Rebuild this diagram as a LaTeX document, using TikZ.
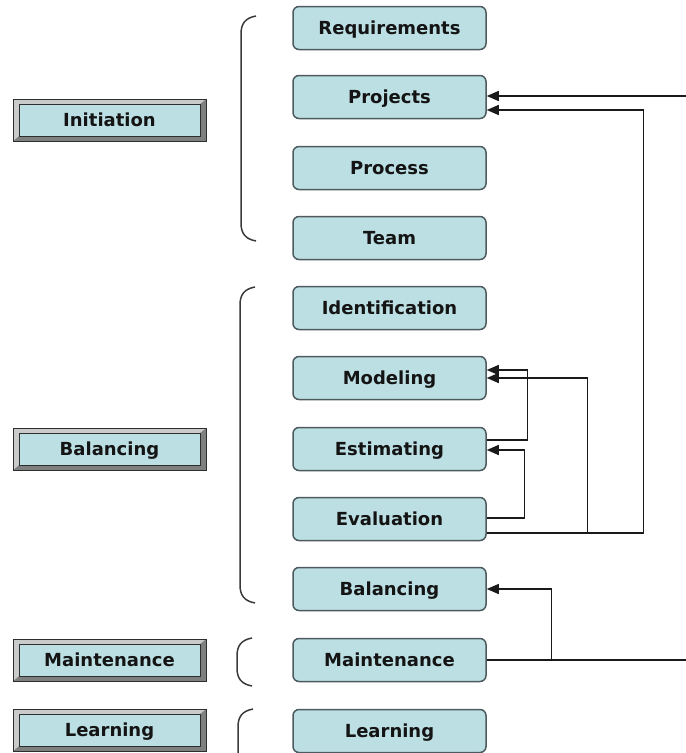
\documentclass[tikz,border=0pt]{standalone}
\usepackage{fontspec}
\setmainfont{DejaVu Sans}
\usetikzlibrary{arrows.meta}

\definecolor{boxfill}{HTML}{BCDFE3}
\definecolor{boxline}{HTML}{4D5B5E}
\definecolor{wire}{HTML}{1A1A1A}
\definecolor{framedark}{HTML}{2E2E2E}
\definecolor{bevellight}{HTML}{C9CBCB}
\definecolor{beveldark}{HTML}{7E8080}
\definecolor{bracketcol}{HTML}{3A3A3A}

% a curly bracket opening to the right: x of spine, top y, bottom y
\newcommand\groupbracket[3]{%
  \draw[bracketline] ({#1+15},{#2}) .. controls ({#1+4},{#2+2}) and ({#1},{#2+8}) .. ({#1},{#2+18})
    -- ({#1},{#3-18}) .. controls ({#1},{#3-8}) and ({#1+4},{#3-2}) .. ({#1+15},{#3});}

\begin{document}
\begin{tikzpicture}[x=1pt,y=-1pt,
  label font/.style={font=\bfseries\fontsize{18}{21}\selectfont, text=black!92,
    text height=13pt, text depth=0pt},
  stepbox/.style={label font, rectangle, rounded corners=6pt, draw=boxline,
    line width=1.5pt, fill=boxfill, minimum width=193pt, minimum height=43pt, inner sep=0pt},
  phasebox/.style={label font, rectangle, draw=framedark, line width=1pt,
    fill=beveldark, minimum width=193pt, minimum height=42pt, inner sep=0pt,
    path picture={
      \coordinate (bb nw) at (path picture bounding box.north west);
      \coordinate (bb ne) at (path picture bounding box.north east);
      \coordinate (bb se) at (path picture bounding box.south east);
      \coordinate (bb sw) at (path picture bounding box.south west);
      \fill[bevellight] (bb nw) -- (bb ne) -- ([shift={(-6pt,-5pt)}]bb ne)
        -- ([shift={(6pt,-5pt)}]bb nw) -- ([shift={(6pt,5pt)}]bb sw) -- (bb sw) -- cycle;
      \filldraw[fill=boxfill, draw=framedark, line width=1pt]
        ([shift={(6pt,-5pt)}]bb nw) rectangle ([shift={(-6pt,5pt)}]bb se);
    }},
  arr/.style={draw=wire, line width=1.4pt, -{Triangle[length=12pt,width=10pt]}},
  wireline/.style={draw=wire, line width=1.4pt},
  bracketline/.style={draw=bracketcol, line width=1.5pt}]

\useasboundingbox (0,0) rectangle (686,753);

% phase labels on the left
\node[phasebox] (pinit)  at (109.5,120) {Initiation};
\node[phasebox] (pbal)   at (109.5,449) {Balancing};
\node[phasebox] (pmaint) at (109.5,660) {Maintenance};
\node[phasebox] (plearn) at (109.5,730) {Learning};

% steps of each phase
\node[stepbox] (req)   at (389.5,28)  {Requirements};
\node[stepbox] (proj)  at (389.5,97)  {Projects};
\node[stepbox] (proc)  at (389.5,168) {Process};
\node[stepbox] (team)  at (389.5,238) {Team};
\node[stepbox] (ident) at (389.5,308) {Identification};
\node[stepbox] (modl)  at (389.5,378) {Modeling};
\node[stepbox] (est)   at (389.5,449) {Estimating};
\node[stepbox] (eval)  at (389.5,519) {Evaluation};
\node[stepbox] (bal)   at (389.5,589) {Balancing};
\node[stepbox] (maint) at (389.5,660) {Maintenance};
\node[stepbox] (learn) at (389.5,731) {Learning};

% brackets grouping the steps
\groupbracket{241}{16}{241}
\groupbracket{240}{287}{603}
\groupbracket{237}{638}{686}
\draw[bracketline] (253,709) .. controls (242,711) and (238,717) .. (238,727) -- (238,760);

% feedback connectors
\coordinate (inA) at (686,96);
\coordinate (outB) at (686,660);
\draw[arr] (inA) -- ([yshift=1pt]proj.east);

\draw[arr] ([yshift=-14pt]eval.east) -- ++(157pt,0) |- ([yshift=-13pt]proj.east);
\coordinate (j1) at ([xshift=101pt,yshift=-14pt]eval.east);
\draw[arr] (j1) |- (modl.east);

\draw[arr] ([yshift=9pt]est.east) -- ++(41pt,0) |- ([yshift=8pt]modl.east);
\draw[arr] ([yshift=1pt]eval.east) -- ++(38pt,0) |- ([yshift=-1pt]est.east);

\draw[wireline] (maint.east) -- (outB);
\coordinate (j2) at ([xshift=65pt]maint.east);
\draw[arr] (j2) |- (bal.east);

\end{tikzpicture}
\end{document}
